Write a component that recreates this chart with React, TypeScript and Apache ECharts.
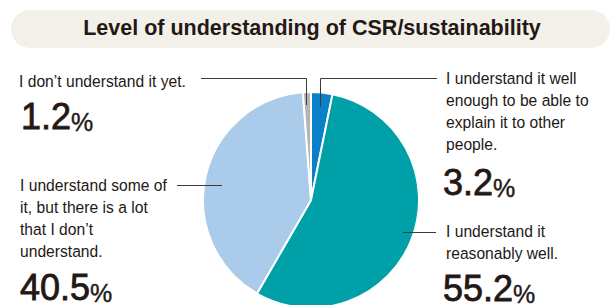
import React, { useEffect, useRef } from "react";
import * as echarts from "echarts";

const TITLE = "Level of understanding of CSR/sustainability";
const categories = [
  "I understand it well\nenough to be able to\nexplain it to other\npeople.",
  "I understand it\nreasonably well.",
  "I understand some of\nit, but there is a lot\nthat I don’t\nunderstand.",
  "I don’t understand it yet.",
];
const values = [3.2, 55.2, 40.5, 1.2];
const colors = ["#0a80c9", "#00a0a8", "#abcbea", "#b5b5b6"];

// layout (annotation positions)
const labelPos = [
  { x: 446, y: 67, vx: 443, vy: 182 },
  { x: 446, y: 220, vx: 443, vy: 288 },
  { x: 20, y: 174, vx: 20, vy: 287 },
  { x: 19, y: 69.5, vx: 21, vy: 116 },
];
const leaders: number[][][] = [
  [[437, 78.5], [320.5, 78.5], [320.5, 107]],
  [[436, 232.5], [403, 232.5]],
  [[177, 185.5], [222, 185.5]],
  [[201, 78.5], [306.5, 78.5], [306.5, 105]],
];

const TEXT = "#231815";
const LINE = "#3e3a39";
const SANS = '"Liberation Sans", Arial, Helvetica, sans-serif';

export default function App() {
  const ref = useRef<HTMLDivElement>(null);
  useEffect(() => {
    const chart = echarts.init(ref.current!, null, { renderer: "svg" });
    const graphics: any[] = [
      {
        type: "rect",
        shape: { x: 11, y: 10, width: 599, height: 38, r: 19 },
        style: { fill: "#f3f0e9" },
        z: 0,
      },
      {
        type: "text",
        x: 312,
        y: 28,
        style: {
          text: TITLE,
          fill: TEXT,
          font: `bold 21.5px ${SANS}`,
          align: "center",
          verticalAlign: "middle",
        },
        z: 1,
      },
    ];
    categories.forEach((name, i) => {
      const p = labelPos[i];
      graphics.push({
        type: "text",
        x: p.x,
        y: p.y,
        scaleX: 0.92,
        style: {
          text: name,
          fill: TEXT,
          fontFamily: SANS,
          fontSize: 17,
          lineHeight: 22,
          align: "left",
          verticalAlign: "top",
        },
        z: 5,
      });
      graphics.push({
        type: "text",
        x: p.vx,
        y: p.vy,
        style: {
          text: `{n|${values[i].toFixed(1)}}{p|%}`,
          align: "left",
          verticalAlign: "middle",
          rich: {
            n: {
              fontFamily: SANS, fontSize: 36, lineHeight: 36, fill: TEXT, verticalAlign: "bottom",
              stroke: TEXT, lineWidth: 0.8,
            },
            p: {
              fontFamily: SANS, fontSize: 25, lineHeight: 28.4, fill: TEXT, verticalAlign: "bottom",
              stroke: TEXT, lineWidth: 0.4,
            },
          },
        },
        z: 5,
      });
      graphics.push({
        type: "polyline",
        shape: { points: leaders[i] },
        style: { stroke: LINE, lineWidth: 1, fill: null },
        z: 10,
      });
    });

    chart.setOption({
      animation: false,
      backgroundColor: "#ffffff",
      series: [
        {
          type: "pie",
          center: [311, 200],
          radius: 108,
          startAngle: 90,
          clockwise: true,
          silent: true,
          label: { show: false },
          labelLine: { show: false },
          itemStyle: { borderColor: "#ffffff", borderWidth: 2 },
          emphasis: { disabled: true },
          data: categories.map((c, i) => ({
            name: c,
            value: values[i],
            itemStyle: { color: colors[i] },
          })),
          z: 2,
        },
      ],
      graphic: graphics,
    });
    return () => chart.dispose();
  }, []);
  return (
    <div
      ref={ref}
      style={{ position: "absolute", left: 0, top: 0, width: 611, height: 305, background: "#fff" }}
    />
  );
}
